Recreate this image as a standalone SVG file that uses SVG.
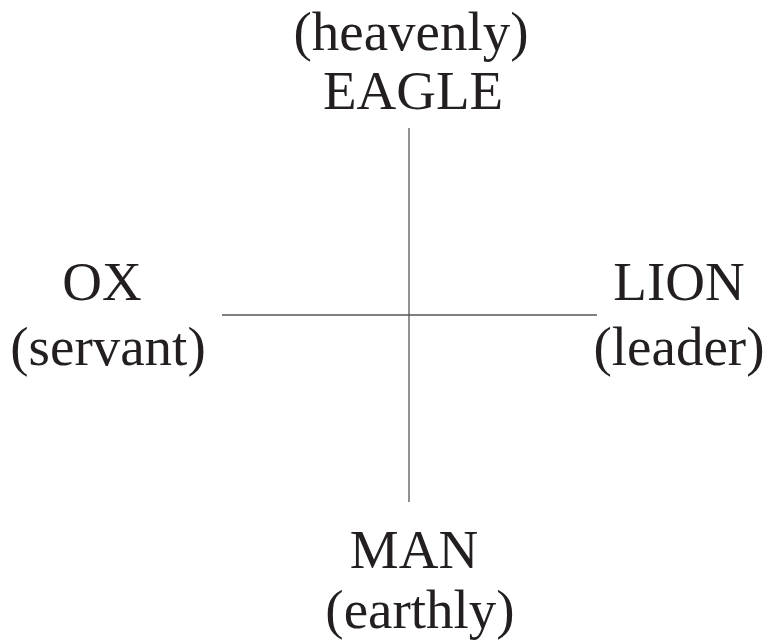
<svg xmlns="http://www.w3.org/2000/svg" width="770" height="641" viewBox="0 0 770 641">
<style>
.t{font-family:"Liberation Serif","Times New Roman",serif;font-size:55px;fill:#231f20;text-anchor:middle}
.ln{stroke:#555;stroke-width:1.3;fill:none}
</style>
<rect width="770" height="641" fill="#fff"/>
<g id="connectors">
<line class="ln" x1="409" y1="128" x2="409" y2="502"/>
<line class="ln" x1="222" y1="315" x2="597" y2="315"/>
</g>
<g id="eagle"><text class="t" x="411" y="50">(heavenly)</text><text class="t" x="413" y="109">EAGLE</text></g>
<g id="ox"><text class="t" x="102" y="300">OX</text><text class="t" x="108" y="365">(servant)</text></g>
<g id="lion"><text class="t" x="679" y="300">LION</text><text class="t" x="679" y="365">(leader)</text></g>
<g id="man"><text class="t" x="414" y="568">MAN</text><text class="t" x="420" y="628">(earthly)</text></g>
</svg>
